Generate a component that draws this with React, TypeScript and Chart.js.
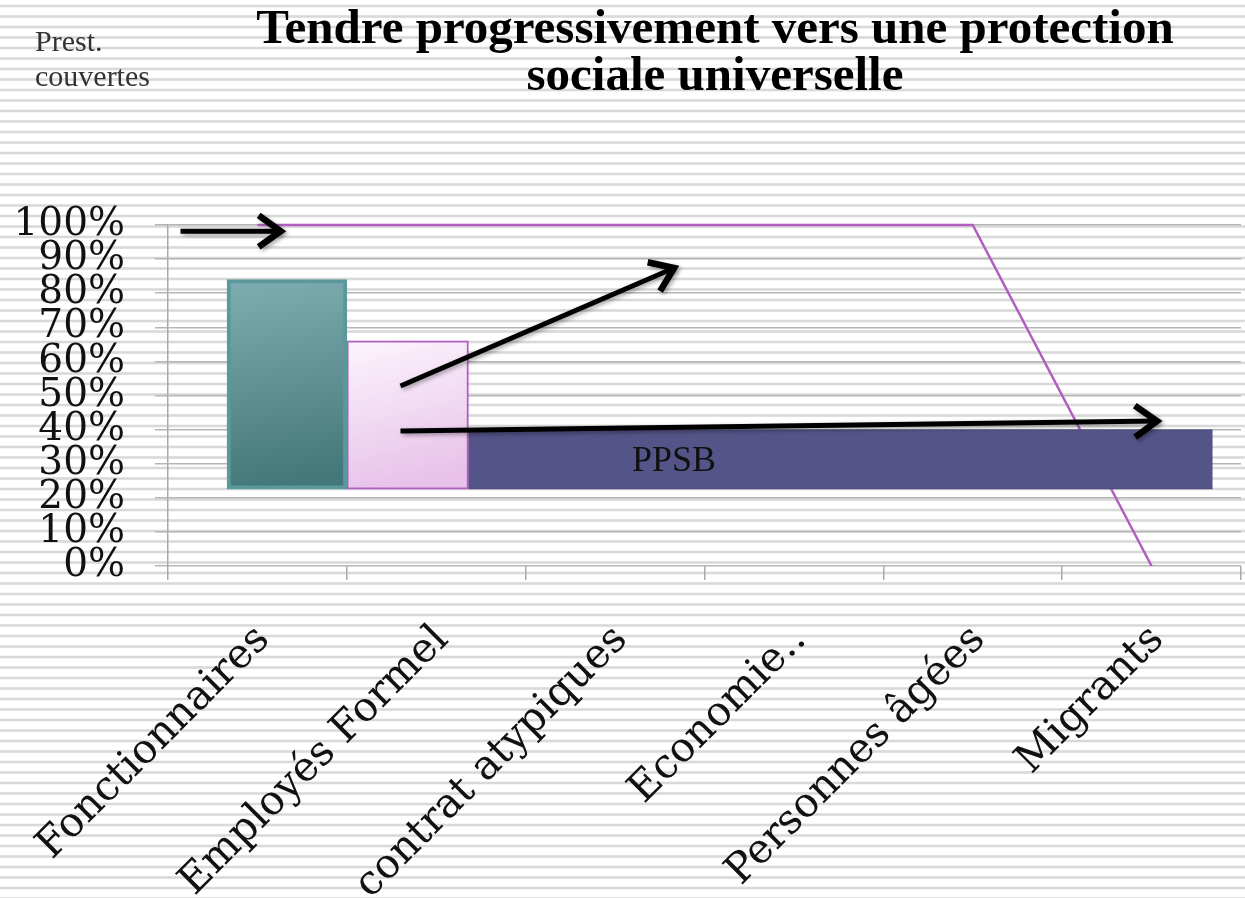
import React, { useEffect, useRef } from "react";
import { Chart, registerables } from "chart.js";

Chart.register(...registerables);

// ---------- data ----------
const categories = [
  "Fonctionnaires",
  "Employés Formel",
  "contrat atypiques",
  "Economie..",
  "Personnes âgées",
  "Migrants",
];
const coverageLine = [100, 100, 100, 100, 100, 0];
const yTickLabels = ["0%", "10%", "20%", "30%", "40%", "50%", "60%", "70%", "80%", "90%", "100%"];

const blockNames = ["Fonctionnaires", "Employés Formel", "PPSB"];
const blockLow = [22.5, 22.5, 22.5];
const blockHigh = [84, 66, 40];
const blockStart = [0.33, 1.0, 1.68]; // category units
const blockEnd = [1.0, 1.68, 5.84];
const blockLabel = ["", "", "PPSB"];
const blockLabelX = [0, 0, 2.83];

const arrowStartX = [0.07, 1.3, 1.3];
const arrowStartY = [98.2, 52.8, 39.6];
const arrowEndX = [0.63, 2.83, 5.53];
const arrowEndY = [98.2, 87.4, 42.5];

const titleLines = ["Tendre progressivement vers une protection", "sociale universelle"];
const cornerLines = ["Prest.", "couvertes"];

// ---------- styles ----------
const W = 1245;
const H = 898;
const TICK_FONT = "DejaVu Serif";

function barFill(k: number) {
  return (c: any) => {
    const ch = c.chart;
    const xs = ch.scales?.xb;
    const ys = ch.scales?.y;
    const solid = ["#5d9296", "#efd2f0", "#545488"][k];
    if (!xs || !ys || !ch.chartArea) return solid;
    if (k === 2) return solid;
    const x0 = xs.getPixelForValue(blockStart[k]);
    const x1 = xs.getPixelForValue(blockEnd[k]);
    const y0 = ys.getPixelForValue(blockHigh[k]);
    const y1 = ys.getPixelForValue(blockLow[k]);
    const g = ch.ctx.createLinearGradient(x0, y0, x1 * 0.3 + x0 * 0.7, y1);
    if (k === 0) {
      g.addColorStop(0, "#7eaeb2");
      g.addColorStop(1, "#44777a");
    } else {
      g.addColorStop(0, "#fcf5fc");
      g.addColorStop(1, "#e8c2ea");
    }
    return g;
  };
}

const stripesPlugin = {
  id: "stripes",
  beforeDraw(chart: any) {
    const { ctx, width, height } = chart;
    ctx.save();
    ctx.fillStyle = "#ffffff";
    ctx.fillRect(0, 0, width, height);
    ctx.fillStyle = "#d9d9d9";
    for (let y = 6; y < height + 5; y += 10.5) {
      ctx.fillRect(0, y - 1.3, width, 2.6);
    }
    ctx.restore();
  },
  afterDraw(chart: any) {
    const { ctx } = chart;
    ctx.save();
    ctx.fillStyle = "#000";
    ctx.textAlign = "center";
    ctx.textBaseline = "alphabetic";
    ctx.font = 'bold 49px "Liberation Serif"';
    ctx.fillText(titleLines[0], 715, 43);
    ctx.fillText(titleLines[1], 715, 90);
    ctx.textAlign = "left";
    ctx.fillStyle = "#333";
    ctx.font = '30px "Liberation Serif"';
    ctx.fillText(cornerLines[0], 35, 51);
    ctx.fillText(cornerLines[1], 35, 86);
    ctx.restore();
  },
};

const arrowPlugin = {
  id: "arrows",
  beforeDatasetDraw(chart: any, args: any) {
    const ds = chart.data.datasets[args.index];
    if (!ds.isArrow) return;
    const ctx = chart.ctx;
    ctx.save();
    ctx.shadowColor = "rgba(0,0,0,0.35)";
    ctx.shadowBlur = 4;
    ctx.shadowOffsetX = 2;
    ctx.shadowOffsetY = 2;
  },
  afterDatasetDraw(chart: any, args: any) {
    const ds = chart.data.datasets[args.index];
    if (!ds.isArrow) return;
    const ctx = chart.ctx;
    const pts = args.meta.data;
    const a = pts[0];
    const b = pts[pts.length - 1];
    const ang = Math.atan2(b.y - a.y, b.x - a.x);
    const len = 27;
    const spread = 0.62;
    ctx.strokeStyle = "#000";
    ctx.lineWidth = 6.5;
    ctx.lineJoin = "miter";
    ctx.lineCap = "butt";
    ctx.beginPath();
    ctx.moveTo(b.x - len * Math.cos(ang - spread), b.y - len * Math.sin(ang - spread));
    ctx.lineTo(b.x, b.y);
    ctx.lineTo(b.x - len * Math.cos(ang + spread), b.y - len * Math.sin(ang + spread));
    ctx.stroke();
    ctx.restore();
  },
  afterDatasetsDraw(chart: any) {
    const { ctx } = chart;
    const xs = chart.scales.xb;
    const ys = chart.scales.y;
    ctx.save();
    ctx.fillStyle = "#111";
    ctx.font = '36px "Liberation Serif"';
    ctx.textAlign = "center";
    ctx.textBaseline = "middle";
    blockLabel.forEach((t, k) => {
      if (!t) return;
      ctx.fillText(
        t,
        xs.getPixelForValue(blockLabelX[k]),
        ys.getPixelForValue((blockLow[k] + blockHigh[k]) / 2) + 2
      );
    });
    ctx.restore();
  },
};

export default function App() {
  const ref = useRef<HTMLCanvasElement>(null);

  useEffect(() => {
    document.body.style.margin = "0";
    const canvas = ref.current!;

    const barDatasets = blockNames.map((name, k) => ({
      type: "bar" as const,
      label: name,
      xAxisID: "xb",
      yAxisID: "y",
      data: [{ x: (blockStart[k] + blockEnd[k]) / 2, y: [blockLow[k], blockHigh[k]] }],
      backgroundColor: barFill(k),
      borderColor: ["#5a989c", "#b25fc2", "#48487a"][k],
      borderWidth: [4, 2, 1][k],
      borderSkipped: false,
      grouped: false,
      order: 2,
    }));

    const arrowDatasets = arrowStartX.map((sx, k) => ({
      type: "line" as const,
      label: "arrow" + k,
      isArrow: true,
      xAxisID: "xb",
      yAxisID: "y",
      data: [
        { x: sx, y: arrowStartY[k] },
        { x: arrowEndX[k], y: arrowEndY[k] },
      ],
      borderColor: "#000",
      borderWidth: 5,
      borderCapStyle: "butt",
      pointRadius: 0,
      tension: 0,
      order: 1,
      clip: false,
    }));

    const chart = new Chart(canvas, {
      type: "bar",
      data: {
        labels: categories,
        datasets: [
          {
            type: "line",
            label: "Couverture",
            xAxisID: "x",
            yAxisID: "y",
            data: coverageLine,
            borderColor: "#b15ec1",
            borderWidth: 2.5,
            pointRadius: 0,
            tension: 0,
            order: 3,
            clip: false,
          } as any,
          ...(barDatasets as any[]),
          ...(arrowDatasets as any[]),
        ],
      },
      options: {
        responsive: false,
        animation: false,
        devicePixelRatio: 1,
        layout: { padding: { left: 15, right: 4, top: 225, bottom: 0 } },
        plugins: {
          legend: { display: false },
          tooltip: { enabled: false },
          title: { display: false },
        },
        scales: {
          x: {
            type: "category",
            position: "bottom",
            offset: true,
            grid: {
              offset: true,
              drawOnChartArea: false,
              tickLength: 14,
              color: "#a9a9a9",
              lineWidth: 1.5,
            },
            border: { display: false },
            ticks: {
              autoSkip: false,
              minRotation: 45,
              maxRotation: 45,
              padding: 36,
              labelOffset: 6,
              color: "#111",
              font: { family: TICK_FONT, size: 41 },
            },
            afterFit: (s: any) => {
              s.height = 332;
              s.paddingLeft = 0;
              s.paddingRight = 0;
            },
          },
          xb: {
            type: "linear",
            display: false,
            offset: false,
            min: 0,
            max: 6,
          },
          y: {
            type: "linear",
            min: 0,
            max: 100,
            grid: {
              color: "#b5b5b5",
              lineWidth: 1.5,
              tickLength: 13,
            },
            border: { color: "#a9a9a9", width: 1.5 },
            ticks: {
              stepSize: 10,
              autoSkip: false,
              padding: 30,
              color: "#111",
              font: { family: TICK_FONT, size: 39 },
              callback: (_v: any, i: number) => yTickLabels[i],
            },
            afterFit: (s: any) => {
              s.width = 153;
            },
          },
        } as any,
      },
      plugins: [stripesPlugin, arrowPlugin],
    });

    const xs: any = chart.scales.xb;
    const unit = xs.getPixelForValue(1) - xs.getPixelForValue(0);
    blockNames.forEach((_n, k) => {
      (chart.data.datasets[1 + k] as any).barThickness = (blockEnd[k] - blockStart[k]) * unit;
    });
    chart.update();

    return () => chart.destroy();
  }, []);

  return (
    <div style={{ width: W, height: H }}>
      <canvas ref={ref} width={W} height={H} style={{ display: "block", width: W, height: H }} />
    </div>
  );
}
